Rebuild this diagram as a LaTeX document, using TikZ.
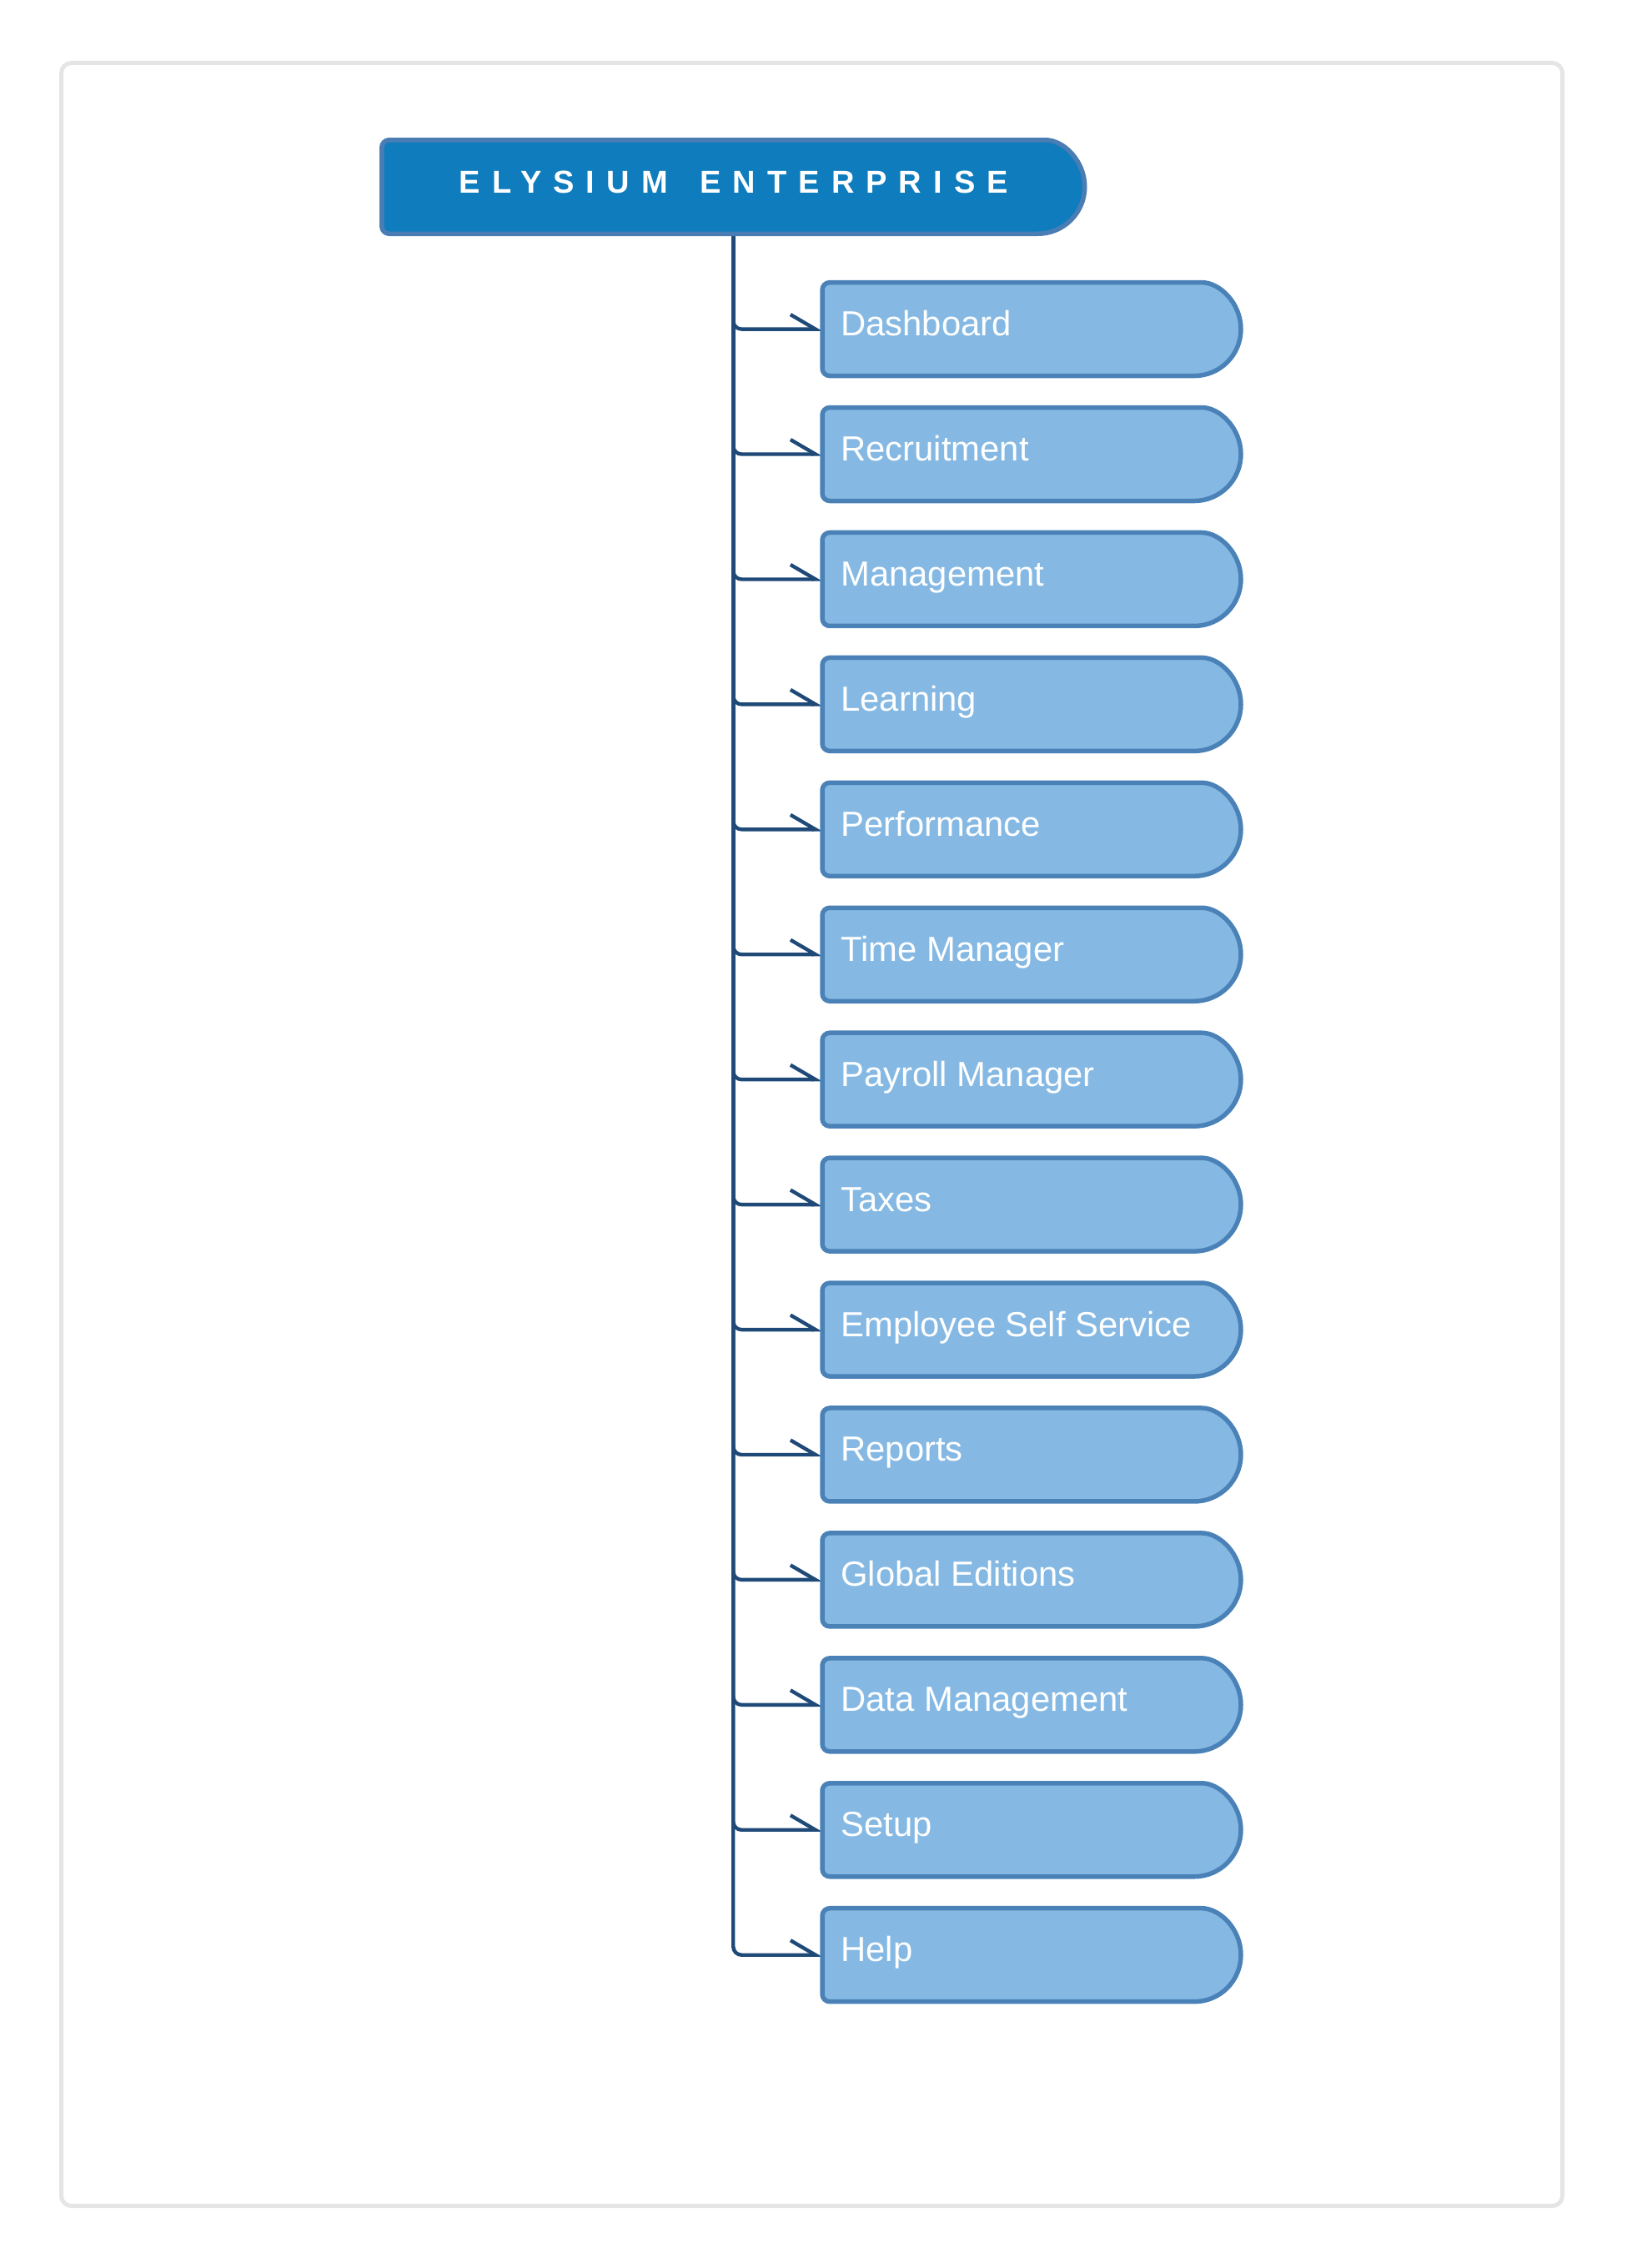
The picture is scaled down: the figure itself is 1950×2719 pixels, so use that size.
\documentclass[tikz,border=0pt]{standalone}
\usepackage{fontspec}
\setmainfont{Liberation Sans}
\newfontfamily\hdrfont{Liberation Sans}[LetterSpace=37]
\usetikzlibrary{arrows.meta,calc}
\definecolor{hdrfill}{HTML}{0F7DBD}
\definecolor{hdredge}{HTML}{4A7DB3}
\definecolor{boxfill}{HTML}{85B9E3}
\definecolor{boxedge}{HTML}{4A82B8}
\definecolor{connclr}{HTML}{1F4A78}
\definecolor{frameclr}{HTML}{E5E5E5}
\pgfdeclarelayer{bg}
\pgfsetlayers{bg,main}
\tikzset{
  geom/.style={draw=none, fill=none, inner sep=0pt, outer sep=0pt, rectangle},
  hdrgeom/.style={geom, minimum width=421.5pt, minimum height=56.25pt},
  boxgeom/.style={geom, minimum width=251pt, minimum height=56pt},
  hdrshape/.style={fill=hdrfill, draw=hdredge, line width=2.75pt},
  boxshape/.style={fill=boxfill, draw=boxedge, line width=2.75pt},
  hdrtext/.style={inner sep=0pt, text=white, font=\hdrfont\bfseries\fontsize{19pt}{23pt}\selectfont},
  boxtext/.style={inner sep=0pt, text=white, font=\fontsize{20.9pt}{24pt}\selectfont},
  conn/.style={draw=connclr, line width=2.2pt, rounded corners=5pt, -{Straight Barb[left,length=15pt,width=17.5pt]}},
  frame/.style={draw=frameclr, line width=2.5pt, rounded corners=6pt},
}
\begin{document}
\begin{tikzpicture}[x=0.5pt,y=-0.5pt]
\useasboundingbox (0,0) rectangle (1950,2719);
\draw[frame] (73.5,75.5) rectangle (1873.5,2644.5);
\node[hdrgeom] (hdr) at (879.25,224) {};
\draw[hdrshape] let \p1=(hdr.south west), \p2=(hdr.north east) in
  (\x2-28.125pt,\y1) [rounded corners=4.5pt] -- (\x1,\y1) -- (\x1,\y2) -- (\x2-28.125pt,\y2) [sharp corners]
  arc[start angle=90, end angle=-90, radius=28.125pt] -- cycle;
\node[hdrtext, anchor=base west] (hdrt) at (550.5,231.7) {\makebox[144.3pt][l]{ELYSIUM }ENTERPRISE};
\foreach \lab [count=\i from 0] in {Dashboard,Recruitment,Management,Learning,Performance,Time Manager,Payroll Manager,Taxes,Employee Self Service,Reports,Global Editions,Data Management,Setup,Help}{
  \pgfmathsetmacro\yy{394.6+149.93*\i}
  \node[boxgeom] (c\i) at (1237,\yy) {};
  \begin{pgfonlayer}{bg}
    \draw[conn] (hdr.south) |- (c\i.west);
  \end{pgfonlayer}
  \draw[boxshape] let \p1=(c\i.south west), \p2=(c\i.north east) in
    (\x2-28pt,\y1) [rounded corners=4.5pt] -- (\x1,\y1) -- (\x1,\y2) -- (\x2-28pt,\y2) [sharp corners]
    arc[start angle=90, end angle=-90, radius=28pt] -- cycle;
  \node[boxtext, anchor=base west] (t\i) at ($(c\i.west)+(22,8)$) {\lab};
}
\end{tikzpicture}
\end{document}
